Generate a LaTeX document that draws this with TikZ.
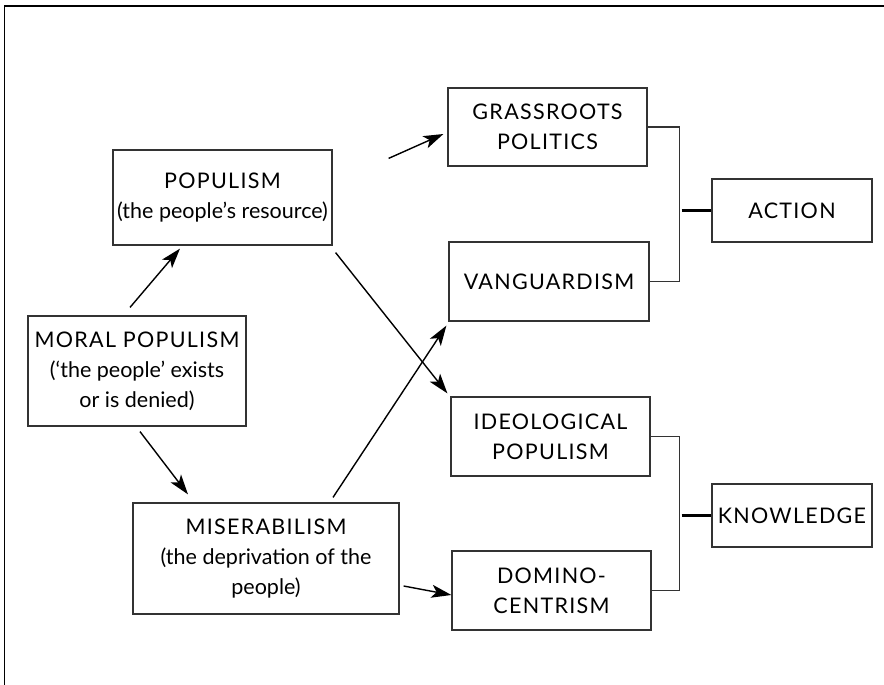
\documentclass[tikz,border=0pt]{standalone}
\usepackage{fontspec}
\setmainfont{Lato}
\newcommand\capsls[1]{{\addfontfeature{LetterSpace=6}#1}}
\usetikzlibrary{arrows.meta}
\begin{document}
\begin{tikzpicture}[x=1pt,y=-1pt,
  box/.style={draw=black!80,line width=1.2pt,align=center,inner sep=0pt,
    font=\fontsize{21.5}{30}\selectfont},
  arr/.style={line width=1.4pt,-{Stealth[length=20pt,width=13pt,inset=5pt]}},
  brk/.style={line width=1.2pt,draw=black!80},
  brkthick/.style={line width=2.6pt}]
\useasboundingbox (0,0) rectangle (884,685);
\coordinate (ftl) at (4.5,6);
\coordinate (ftr) at (884,6);
\coordinate (fbl) at (4.5,685);
\draw[line width=1.3pt] (fbl) -- (ftl) -- (ftr);

\node[box,minimum width=199pt,minimum height=78pt] (grass) at (547.5,127) {\capsls{GRASSROOTS}\\\capsls{POLITICS}};
\node[box,minimum width=219pt,minimum height=95pt] (pop) at (222.5,197.5) {\capsls{POPULISM}\\(the people’s resource)};
\node[box,minimum width=160pt,minimum height=63pt] (action) at (792,210.5) {\capsls{ACTION}};
\node[box,minimum width=200pt,minimum height=79pt] (vang) at (549,281.5) {\capsls{VANGUARDISM}};
\node[box,minimum width=218pt,minimum height=110pt] (moral) at (137,371) {\capsls{MORAL POPULISM}\\(‘the people’ exists\\or is denied)};
\node[box,minimum width=199pt,minimum height=79pt] (ideo) at (550.5,436.5) {\capsls{IDEOLOGICAL}\\\capsls{POPULISM}};
\node[box,minimum width=160pt,minimum height=63pt] (know) at (792,515.5) {\capsls{KNOWLEDGE}};
\node[box,minimum width=266pt,minimum height=111pt] (miser) at (266,558.5) {\capsls{MISERABILISM}\\(the deprivation of the\\people)};
\node[box,minimum width=199pt,minimum height=79pt] (domino) at (551.5,590.5) {\capsls{DOMINO-}\\\capsls{CENTRISM}};

\draw[arr] ([shift={(-7,-8)}]moral.north) -- ([shift={(-42.5,3)}]pop.south);
\draw[arr] ([shift={(3,5)}]moral.south) -- ([shift={(-78,-8)}]miser.north);
\draw[arr] ([shift={(56,9)}]pop.north east) -- ([shift={(-4,7)}]grass.west);
\draw[arr] ([shift={(3,7)}]pop.south east) -- ([shift={(-3,-3)}]ideo.north west);
\draw[arr] ([shift={(67,-5)}]miser.north) -- ([shift={(-2,4)}]vang.south west);
\draw[arr] ([shift={(4,27.5)}]miser.east) -- ([shift={(0,4.5)}]domino.west);

\draw[brk] (grass.east) -- ++(32,0) coordinate (a1) -- (a1 |- vang.east) -- (vang.east);
\draw[brkthick] ([xshift=2pt]a1 |- action.west) -- (action.west);
\draw[brk] (ideo.east) -- ++(29,0) coordinate (k1) -- (k1 |- domino.east) -- (domino.east);
\draw[brkthick] ([xshift=2pt]k1 |- know.west) -- (know.west);
\end{tikzpicture}
\end{document}
